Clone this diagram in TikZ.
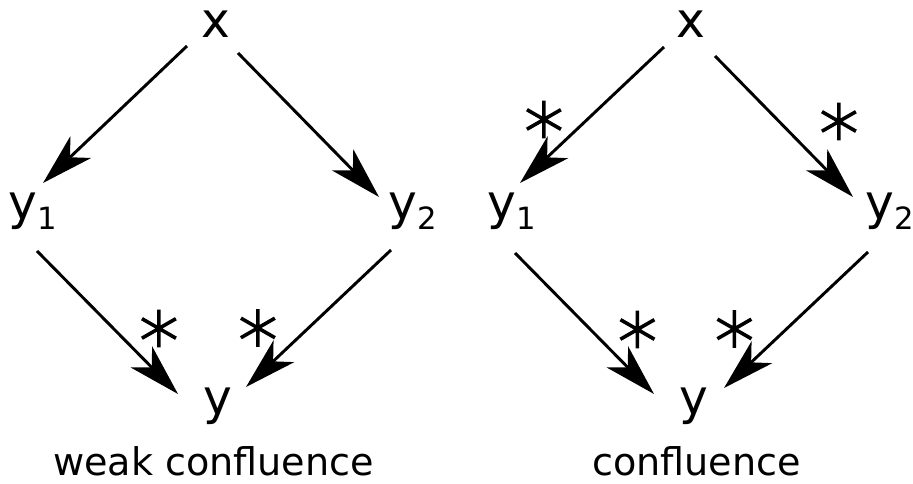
\documentclass[tikz,border=0pt]{standalone}
\usepackage{fontspec}
\setmainfont{DejaVu Sans}
\newfontfamily\starfam{DejaVu Sans ExtraLight}[FakeBold=2.3]
\usetikzlibrary{arrows.meta}
\newcommand{\vertfont}{\fontsize{36.5pt}{40pt}\selectfont}
\newcommand{\subfont}{\fontsize{23pt}{25pt}\selectfont}
\newcommand{\labfont}{\fontsize{28.6pt}{32pt}\selectfont}
\newcommand{\starfont}{\starfam\fontsize{59pt}{62pt}\selectfont}
\newcommand{\mysub}[1]{\raisebox{-7.2pt}{\subfont #1}}
\begin{document}
\begin{tikzpicture}[x=0.75pt,y=-0.75pt,
  vert/.style={inner sep=0pt, font=\vertfont},
  lab/.style={inner sep=0pt, font=\labfont, anchor=base},
  starlab/.style={inner sep=0pt, font=\starfont, anchor=base},
  arr/.style={line width=2.2pt, -{Stealth[length=39pt,width=22.5pt,inset=11pt]}}]
\useasboundingbox (0,0) rectangle (913,484);
% ---- weak confluence ----
\node[vert, anchor=base] (x) at (215.5,37.3) {x};
\node[vert, anchor=base west] (y1) at (8.5,220) {y\mysub{1}};
\node[vert, anchor=base west] (y2) at (388.5,220) {y\mysub{2}};
\node[vert, anchor=base] (y) at (218,414) {y};
\node[lab] (l1) at (213.5,475) {weak confluence};
\draw[arr] ([shift={(-28.5,8.7)}]x.base) -- ([shift={(34.5,-37)}]y1.base west);
\draw[arr] ([shift={(22.5,15.7)}]x.base) -- ([shift={(-9.5,-23)}]y2.base west);
\draw[arr] ([shift={(28.5,31)}]y1.base west) -- ([shift={(-40,-20)}]y.base);
\draw[arr] ([shift={(2.5,30)}]y2.base west) -- ([shift={(28,-27)}]y.base);
\node[starlab] (s1) at (159,369) {*};
\node[starlab] (s2) at (258,368.5) {*};
% ---- confluence ----
\node[vert, anchor=base] (xr) at (691,37.5) {x};
\node[vert, anchor=base west] (y1r) at (487.5,220) {y\mysub{1}};
\node[vert, anchor=base west] (y2r) at (865,220) {y\mysub{2}};
\node[vert, anchor=base] (yr) at (694,414) {y};
\node[lab] (l2) at (696.5,475) {confluence};
\draw[arr] ([shift={(-27,9.5)}]xr.base) -- ([shift={(32.5,-37)}]y1r.base west);
\draw[arr] ([shift={(24,18.5)}]xr.base) -- ([shift={(-12,-23)}]y2r.base west);
\draw[arr] ([shift={(27.5,33)}]y1r.base west) -- ([shift={(-40,-20)}]yr.base);
\draw[arr] ([shift={(3,32)}]y2r.base west) -- ([shift={(30,-26)}]yr.base);
\node[starlab] (s3) at (544,160) {*};
\node[starlab] (s4) at (839,162) {*};
\node[starlab] (s5) at (637.5,370) {*};
\node[starlab] (s6) at (734.5,369.5) {*};
\end{tikzpicture}
\end{document}
